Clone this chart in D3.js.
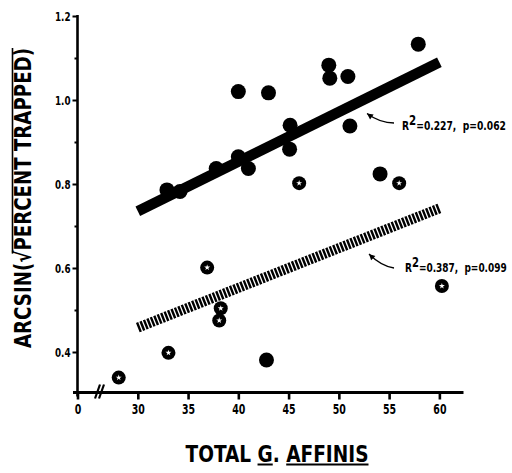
<!DOCTYPE html>
<html><head><meta charset="utf-8">
<script src="https://cdn.jsdelivr.net/npm/d3@7"></script>
<style>
html,body{margin:0;padding:0;background:#fff;}
text{font-family:"Liberation Sans Narrow","DejaVu Sans Condensed","Arial Narrow",sans-serif;font-weight:bold;fill:#000;white-space:pre;}
</style></head>
<body>
<svg id="chart" width="512" height="473"></svg>
<script>
// ---- data ----
const solidX = [57.9, 49.0, 49.1, 50.9, 40.0, 43.0, 45.15, 51.1, 45.1, 40.0, 41.0, 37.8, 32.9, 34.2, 54.1, 42.8];
const solidY = [1.133, 1.083, 1.052, 1.056, 1.020, 1.017, 0.940, 0.938, 0.883, 0.865, 0.837, 0.837, 0.786, 0.782, 0.824, 0.381];
const openX = [46.05, 56.0, 36.9, 38.25, 38.1, 33.05, 28.1, 60.25];
const openY = [0.802, 0.802, 0.601, 0.504, 0.475, 0.398, 0.339, 0.557];
const solidFitX = [30, 60];
const solidFitY = [0.735, 1.09];
const openFitX = [30, 60];
const openFitY = [0.458, 0.742];
const xTicks = [24, 30, 35, 40, 45, 50, 55, 60];
const xTickLabels = ["0", "30", "35", "40", "45", "50", "55", "60"];
const yMajor = [0.4, 0.6, 0.8, 1.0, 1.2];
const yMinor = [0.5, 0.7, 0.9, 1.1];
const labelSolid = {r2: "0.227", p: "0.062"};
const labelOpen = {r2: "0.387", p: "0.099"};

const svg = d3.select("#chart");
const x = d3.scaleLinear().domain([24, 62.4]).range([77.5, 463.5]);
const y = d3.scaleLinear().domain([0.4, 1.2]).range([352, 16]);
const yBottom = 392.5;

function squeeze(sel, f) {
  sel.each(function () {
    const w = this.getComputedTextLength();
    d3.select(this).attr("textLength", w * f).attr("lengthAdjust", "spacingAndGlyphs");
  });
}

// ---- axes ----
const xAxis = d3.axisBottom(x).tickValues(xTicks)
  .tickFormat((d, i) => xTickLabels[i]).tickSize(7).tickSizeOuter(0).tickPadding(5);
const gx = svg.append("g").attr("transform", `translate(0,${yBottom})`).call(xAxis);
gx.select(".domain").remove();
gx.selectAll(".tick line").attr("stroke", "#000").attr("stroke-width", 2.6);
gx.selectAll(".tick text").attr("font-size", 14).attr("fill", "#000");
squeeze(gx.selectAll(".tick text"), 0.75);
svg.append("line").attr("x1", 73).attr("x2", 463.5).attr("y1", yBottom).attr("y2", yBottom)
  .attr("stroke", "#000").attr("stroke-width", 3);

const yAxis = d3.axisLeft(y).tickValues(yMajor).tickFormat(d3.format(".1f"))
  .tickSize(5).tickSizeOuter(0).tickPadding(2);
const gy = svg.append("g").attr("transform", `translate(77.5,0)`).call(yAxis);
gy.select(".domain").remove();
gy.selectAll(".tick line").attr("stroke", "#000").attr("stroke-width", 2);
gy.selectAll(".tick text").attr("font-size", 12.5).attr("fill", "#000");
squeeze(gy.selectAll(".tick text"), 0.78);
const yMin = d3.axisLeft(y).tickValues(yMinor).tickFormat("").tickSize(3).tickSizeOuter(0);
const gym = svg.append("g").attr("transform", `translate(77.5,0)`).call(yMin);
gym.select(".domain").remove();
gym.selectAll(".tick line").attr("stroke", "#000").attr("stroke-width", 2);
svg.append("line").attr("x1", 77.5).attr("x2", 77.5).attr("y1", y(1.2) - 1).attr("y2", yBottom + 4)
  .attr("stroke", "#000").attr("stroke-width", 2.6);

// axis break
[0, 4].forEach(o => {
  svg.append("line").attr("x1", 95 + o).attr("y1", yBottom + 6).attr("x2", 100 + o).attr("y2", yBottom - 8)
    .attr("stroke", "#000").attr("stroke-width", 2.2);
});

// ---- regression lines ----
const line = d3.line().x(d => x(d[0])).y(d => y(d[1]));
svg.append("path").attr("d", line(solidFitX.map((v, i) => [v, solidFitY[i]])))
  .attr("stroke", "#000").attr("stroke-width", 10.5).attr("fill", "none");
svg.append("path").attr("d", line(openFitX.map((v, i) => [v, openFitY[i]])))
  .attr("stroke", "#000").attr("stroke-width", 10).attr("fill", "none")
  .attr("stroke-dasharray", "2.4,1.3");

// ---- points ----
svg.append("g").selectAll("circle").data(solidX.map((v, i) => [v, solidY[i]])).join("circle")
  .attr("cx", d => x(d[0])).attr("cy", d => y(d[1])).attr("r", 7.5).attr("fill", "#000");
const og = svg.append("g").selectAll("g").data(openX.map((v, i) => [v, openY[i]])).join("g")
  .attr("transform", d => `translate(${x(d[0])},${y(d[1])})`);
og.append("circle").attr("r", 7).attr("fill", "#000");
og.append("path").attr("d", d3.symbol().type(d3.symbolStar).size(11)).attr("fill", "#fff");

// ---- annotations ----
function annot(lab, tx, ty, w, a0, a1, ctrl) {
  const g = svg.append("g");
  const t = g.append("text").attr("x", 0).attr("y", 0).attr("font-size", 12.5);
  t.append("tspan").text("R");
  t.append("tspan").attr("dy", -5.5).attr("font-size", 14).text("2");
  t.append("tspan").attr("dy", 5.5).text(`=${lab.r2},  p=${lab.p}`);
  const bw = t.node().getBBox().width;
  g.attr("transform", `translate(${tx},${ty}) scale(${w / bw},1)`);
  svg.append("path").attr("d", `M${a0[0]},${a0[1]} Q${ctrl[0]},${ctrl[1]} ${a1[0]},${a1[1]}`)
    .attr("stroke", "#000").attr("stroke-width", 1.3).attr("fill", "none");
  const ang = Math.atan2(a1[1] - ctrl[1], a1[0] - ctrl[0]);
  const L = 6, W = 3;
  const bx = a1[0] - L * Math.cos(ang), by = a1[1] - L * Math.sin(ang);
  const px = -Math.sin(ang) * W, py = Math.cos(ang) * W;
  svg.append("path").attr("d", `M${a1[0]},${a1[1]} L${bx + px},${by + py} L${bx - px},${by - py} Z`).attr("fill", "#000");
}
annot(labelSolid, 402, 130, 104, [394, 123], [367, 113.5], [380, 123]);
annot(labelOpen, 405, 272, 102, [394, 268], [369, 254], [381, 266]);

// ---- y label ----
const yl = svg.append("text").attr("transform", "translate(31,198) rotate(-90)")
  .attr("text-anchor", "middle").attr("font-size", 22.5);
yl.text("ARCSIN(√PERCENT TRAPPED)");
const full = yl.node().getComputedTextLength();
const pre = yl.node().getSubStringLength(0, 7);
const sq = yl.node().getSubStringLength(7, 1);
const target = 300;
yl.attr("textLength", target).attr("lengthAdjust", "spacingAndGlyphs");
const k = target / full;
const startOv = -target / 2 + (pre + sq * 0.75) * k;
svg.append("line").attr("transform", "translate(31,198) rotate(-90)")
  .attr("x1", startOv).attr("x2", target / 2).attr("y1", -18.5).attr("y2", -18.5)
  .attr("stroke", "#000").attr("stroke-width", 1.6);

// ---- x label ----
const xl = svg.append("text").attr("x", 277).attr("y", 461.5).attr("text-anchor", "middle").attr("font-size", 22.5);
xl.text("TOTAL G. AFFINIS");
const xfull = xl.node().getComputedTextLength();
const xt = 183;
const xk = xt / xfull;
const x0 = 277 - xt / 2;
const gS = xl.node().getSubStringLength(0, 6) * xk, gW = xl.node().getSubStringLength(6, 1) * xk;
const aS = xl.node().getSubStringLength(0, 9) * xk;
xl.attr("textLength", xt).attr("lengthAdjust", "spacingAndGlyphs");
svg.append("line").attr("x1", x0 + gS).attr("x2", x0 + gS + gW).attr("y1", 464.5).attr("y2", 464.5)
  .attr("stroke", "#000").attr("stroke-width", 2);
svg.append("line").attr("x1", x0 + aS).attr("x2", x0 + xt).attr("y1", 464.5).attr("y2", 464.5)
  .attr("stroke", "#000").attr("stroke-width", 2);
</script>
</body></html>
